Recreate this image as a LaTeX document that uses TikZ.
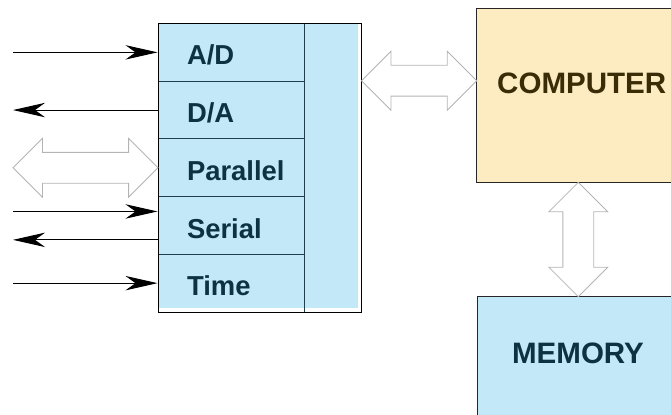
\documentclass[tikz,border=0pt]{standalone}
\usepackage{fontspec}
\setmainfont{Liberation Sans}
\usetikzlibrary{shapes.arrows, arrows.meta}
\definecolor{iofill}{HTML}{C3E9F8}
\definecolor{compfill}{HTML}{FDECC2}
\definecolor{boxline}{HTML}{1F3F4C}
\definecolor{iotext}{HTML}{0D3342}
\definecolor{comptext}{HTML}{3A2C06}
\definecolor{hollowline}{HTML}{B4B4B4}
\tikzstyle{frame} = [rectangle, draw=black, line width=0.7pt, minimum width=5.0875cm, minimum height=7.2125cm, inner sep=0pt]
\tikzstyle{iorow} = [rectangle, draw=boxline, line width=0.7pt, minimum width=3.65cm, minimum height=1.4425cm, inner xsep=0.725cm, text width=2.2cm, text height=0.63cm, text depth=0pt, align=left, text=iotext, font=\fontsize{19.5}{22}\selectfont\bfseries]
\tikzstyle{bus} = [rectangle, draw=boxline, line width=0.7pt, minimum width=1.4375cm, minimum height=7.2125cm, inner sep=0pt]
\tikzstyle{unit} = [rectangle, draw=black!85, line width=0.7pt, inner sep=0pt]
\tikzstyle{unitlabel} = [font=\fontsize{21}{24}\selectfont\bfseries]
\tikzstyle{wire} = [line width=0.7pt, -{Stealth[length=0.8cm, width=0.36cm, inset=0.25cm]}]
\tikzstyle{hollow} = [double arrow, draw=hollowline, fill=white, line width=0.6pt, double arrow tip angle=90, double arrow head extend=0.35cm, inner sep=0.375cm, minimum width=1.45cm]

\begin{document}
\begin{tikzpicture}
    \useasboundingbox (0,0) rectangle (16.775,-10.35);
    \clip (0,0) rectangle (16.775,-10.35);

    \node (iobox) [frame] at (6.49375,-4.19375) {};
    \fill [iofill] (iobox.north west) rectangle ([shift={(-0.1,0.125)}]iobox.south east);
    \node (ad) [iorow] at (5.775,-1.30875) {A/D};
    \node (da) [iorow] at (5.775,-2.75125) {D/A};
    \node (parallel) [iorow] at (5.775,-4.19375) {Parallel};
    \node (serial) [iorow] at (5.775,-5.63625) {Serial};
    \node (time) [iorow] at (5.775,-7.07875) {Time};
    \node (bus) [bus] at (8.31875,-4.19375) {};
    \node [frame] at (iobox) {};

    \node (computer) [unit, fill=compfill, minimum width=5.25cm, minimum height=4.35cm,
        label={[unitlabel, text=comptext, yshift=0.31cm]center:COMPUTER}] at (14.5425,-2.3825) {};
    \node (memory) [unit, fill=iofill, minimum width=5.035cm, minimum height=3.3325cm,
        label={[unitlabel, text=iotext, yshift=0.24cm]center:MEMORY}] at (14.45,-9.08375) {};

    \coordinate (adin) at (0.325,-1.30875);
    \coordinate (daout) at (0.325,-2.75125);
    \coordinate (serialin) at (0.325,-5.28625);
    \coordinate (serialout) at (0.325,-5.99625);
    \coordinate (timein) at (0.325,-7.07875);

    \draw [wire] (adin) -- (ad.west);
    \draw [wire] (da.west) -- (daout);
    \draw [wire] (serialin) -- (serialin -| serial.west);
    \draw [wire] (serialout -| serial.west) -- (serialout);
    \draw [wire] (timein) -- (time.west);

    \node (parlink) [hollow, minimum height=3.625cm] at (2.1375,-4.19375) {};
    \node (hostlink) [hollow, minimum height=2.88cm] at (10.4775,-2.0175) {};
    \node (memlink) [hollow, minimum height=2.86cm, rotate=90] at (14.458,-5.9875) {};
\end{tikzpicture}
\end{document}
